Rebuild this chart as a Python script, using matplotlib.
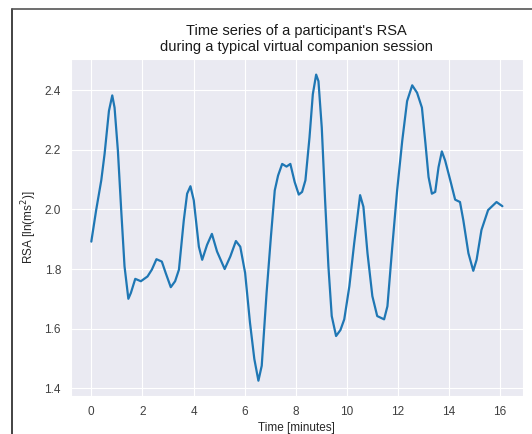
import numpy as np
import matplotlib
matplotlib.use("Agg")
import matplotlib.pyplot as plt
import seaborn as sns
from matplotlib.lines import Line2D

# time in minutes, RSA in ln(ms^2)
time_min = [0.00, 0.19, 0.39, 0.52, 0.69, 0.82, 0.91, 1.04, 1.17, 1.30, 1.45, 1.55,
            1.72, 1.94, 2.20, 2.37, 2.55, 2.76, 2.91, 3.11, 3.28, 3.43, 3.62, 3.75,
            3.88, 4.01, 4.21, 4.34, 4.53, 4.72, 4.92, 5.22, 5.44, 5.66, 5.83, 6.02,
            6.21, 6.38, 6.54, 6.67, 6.86, 7.03, 7.18, 7.31, 7.47, 7.64, 7.79, 7.96,
            8.12, 8.25, 8.38, 8.54, 8.67, 8.80, 8.89, 9.02, 9.15, 9.28, 9.41, 9.58,
            9.75, 9.90, 10.10, 10.29, 10.52, 10.65, 10.81, 11.00, 11.19, 11.46, 11.59,
            11.78, 11.97, 12.17, 12.36, 12.56, 12.75, 12.94, 13.08, 13.20, 13.33,
            13.46, 13.59, 13.72, 13.85, 14.05, 14.24, 14.43, 14.56, 14.76, 14.95,
            15.08, 15.27, 15.53, 15.86, 16.09]
rsa = [1.892, 1.998, 2.098, 2.187, 2.331, 2.383, 2.342, 2.198, 1.998, 1.809, 1.700, 1.720,
       1.767, 1.759, 1.775, 1.798, 1.833, 1.825, 1.787, 1.739, 1.759, 1.798, 1.964, 2.053,
       2.078, 2.031, 1.875, 1.831, 1.881, 1.918, 1.859, 1.800, 1.842, 1.894, 1.875, 1.787,
       1.620, 1.498, 1.425, 1.475, 1.720, 1.909, 2.064, 2.114, 2.153, 2.144, 2.153, 2.092,
       2.050, 2.059, 2.098, 2.242, 2.387, 2.453, 2.431, 2.275, 2.031, 1.809, 1.642, 1.575,
       1.595, 1.631, 1.742, 1.887, 2.048, 2.009, 1.853, 1.709, 1.642, 1.631, 1.675,
       1.875, 2.064, 2.231, 2.364, 2.417, 2.392, 2.342, 2.220, 2.109, 2.053,
       2.059, 2.142, 2.195, 2.164, 2.098, 2.033, 2.025, 1.964, 1.853, 1.794,
       1.831, 1.931, 1.998, 2.025, 2.011]

sns.set_style("darkgrid")
plt.rcParams['font.family'] = ['Liberation Sans', 'DejaVu Sans']

fig = plt.figure(figsize=(5.32, 4.34), dpi=100)
ax = fig.add_axes([0.133, 0.0876, 0.850, 0.7758])

ax.plot(time_min, rsa, color='#1f77b4', lw=1.6)

ax.set_xticks(np.arange(0, 17, 2))
ax.set_yticks([1.4, 1.6, 1.8, 2.0, 2.2, 2.4])
ax.tick_params(labelsize=8.5, colors='.25')
ax.set_title("Time series of a participant's RSA\nduring a typical virtual companion session",
             fontsize=10.5, color='.1', pad=6)
ax.set_xlabel("Time [minutes]", fontsize=8.5, color='.15', labelpad=3)
ax.set_ylabel("RSA [ln(ms$^2$)]", fontsize=8.5, color='.15')

# dark frame edges from the screenshot
fig.add_artist(Line2D([11.5 / 532, 11.5 / 532], [0, 1 - 9 / 434], transform=fig.transFigure,
                      color='#222222', lw=1.2))
fig.add_artist(Line2D([11.5 / 532, 1], [1 - 9 / 434, 1 - 9 / 434], transform=fig.transFigure,
                      color='#555555', lw=1.2))

fig.savefig("out.png", dpi=100)
